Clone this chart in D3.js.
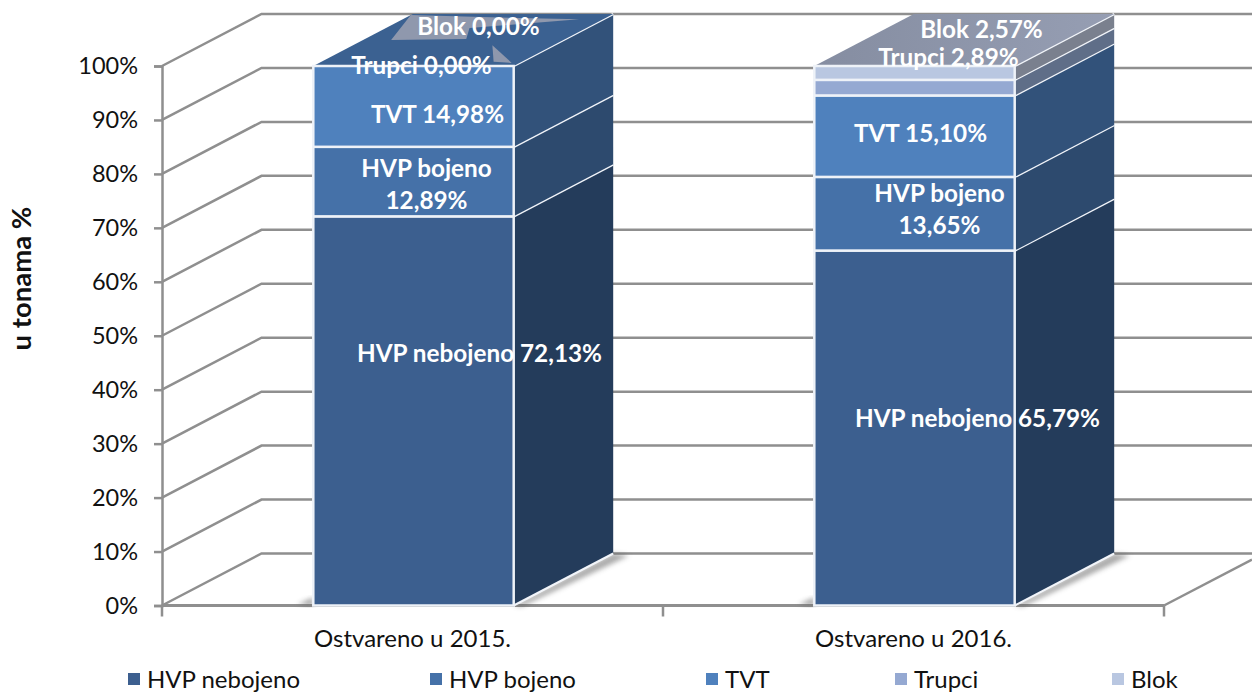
<!DOCTYPE html>
<html><head><meta charset="utf-8">
<script src="https://cdn.jsdelivr.net/npm/d3@7"></script>
<style>html,body{margin:0;padding:0;background:#fff}svg{display:block}text{font-family:Lato,"Open Sans",sans-serif}</style>
</head><body><svg id="c" width="1252" height="693"></svg>
<script>
const categories = ["Ostvareno u 2015.", "Ostvareno u 2016."];
const seriesNames = ["HVP nebojeno", "HVP bojeno", "TVT", "Trupci", "Blok"];
const values2015 = [72.13, 12.89, 14.98, 0, 0];
const values2016 = [65.79, 13.65, 15.10, 2.89, 2.57];
const frontColors = ["#3c5f8f", "#4571a8", "#4f81bd", "#95a9d2", "#b9c7e1"];
const sideColors = ["#243c5b", "#2d4a6e", "#32527a", "#5f6e88", "#7a808e"];
const legendX = [128, 430, 706, 895, 1112];
const yTicks = d3.range(0, 101, 10);

const GRID = "#8f8f8f";
const depthX = 99.5, depthY = -52;
const svg = d3.select("#c");
const y = d3.scaleLinear().domain([0, 100]).range([605.5, 66]);
const x = d3.scaleBand().domain(categories).range([162, 1164]);
const barW = x.bandwidth() * 0.4;
const barLeft = c => x(c) + (x.bandwidth() - barW) / 2 + 1;
const pct = v => v.toFixed(2).replace(".", ",") + "%";

const defs = svg.append("defs");
defs.append("filter").attr("id", "soft").attr("x", "-30%").attr("y", "-30%").attr("width", "160%").attr("height", "160%")
  .append("feGaussianBlur").attr("stdDeviation", 2.5);
const lg = defs.append("linearGradient").attr("id", "topGrey").attr("x1", 0).attr("x2", 1).attr("y1", 0).attr("y2", 0);
lg.append("stop").attr("offset", 0).attr("stop-color", "#858da1");
lg.append("stop").attr("offset", 1).attr("stop-color", "#969eb3");

const g = svg.append("g");
yTicks.forEach(t => {
  g.append("path").attr("fill", "none").attr("stroke", GRID).attr("stroke-width", 2.5)
    .attr("d", d3.line()([[x.range()[0], y(t)], [x.range()[0] + depthX, y(t) + depthY], [1252, y(t) + depthY]]));
});
g.append("line").attr("x1", x.range()[1]).attr("y1", y(0)).attr("x2", x.range()[1] + 88).attr("y2", y(0) + depthY * 88 / depthX)
  .attr("stroke", GRID).attr("stroke-width", 2.5);

const yAxis = g.append("g").attr("transform", `translate(${x.range()[0]},0)`)
  .call(d3.axisLeft(y).tickValues(yTicks).tickFormat(d => d + "%").tickSize(8).tickPadding(16));
yAxis.selectAll("path,line").attr("stroke", GRID).attr("stroke-width", 2.5);
yAxis.selectAll("text").attr("font-size", 23.5).attr("fill", "#111").attr("font-family", "Lato");

const xAxis = g.append("g").attr("transform", `translate(0,${y(0)})`)
  .call(d3.axisBottom(x).tickValues(categories).tickSize(0).tickPadding(24));
xAxis.select("path").attr("stroke", GRID).attr("stroke-width", 3).attr("d", `M${x.range()[0]},0H${x.range()[1]}`);
xAxis.selectAll("text").attr("font-size", 24).attr("fill", "#111").attr("font-family", "Lato");
[x.range()[0], x.range()[0] + x.bandwidth(), x.range()[1]].forEach(px => {
  g.append("line").attr("x1", px).attr("x2", px).attr("y1", y(0)).attr("y2", y(0) + 11).attr("stroke", GRID).attr("stroke-width", 2.5);
});

const stacks = d3.stack().keys(d3.range(5))([values2015, values2016]);
const seg = (ci, si) => stacks[si][ci];

categories.forEach((c, ci) => {
  const L = barLeft(c), R = L + barW;
  const bar = g.append("g");
  bar.append("path").attr("fill", "#666").attr("opacity", .6).attr("filter", "url(#soft)")
    .attr("d", d3.line()([[L - 16, y(0) - 1], [L, y(0) - 8], [L, y(0)]]) + "Z");
  bar.append("path").attr("fill", "#555").attr("opacity", .5).attr("filter", "url(#soft)")
    .attr("d", d3.line()([[R, y(0)], [R + depthX, y(0) + depthY], [R + depthX + 16, y(0) + depthY + 2], [R + 8, y(0) + 1]]) + "Z");

  seriesNames.forEach((_, si) => {
    const [a, b] = seg(ci, si);
    if (b - a <= 0) return;
    bar.append("path").attr("fill", sideColors[si])
      .attr("d", d3.line()([[R, y(a)], [R + depthX, y(a) + depthY], [R + depthX, y(b) + depthY], [R, y(b)]]) + "Z");
    bar.append("line").attr("x1", R).attr("y1", y(b)).attr("x2", R + depthX).attr("y2", y(b) + depthY)
      .attr("stroke", "#f2f5fa").attr("stroke-width", 2.5);
  });
  bar.append("line").attr("x1", R).attr("y1", y(0)).attr("x2", R + depthX).attr("y2", y(0) + depthY)
    .attr("stroke", "#f2f5fa").attr("stroke-width", 2);

  const topVal = 100;
  const topPt = (u, v) => [L + u * barW + v * depthX, y(topVal) + v * depthY];
  const topHasBlok = seg(ci, 4)[1] - seg(ci, 4)[0] > 0;
  bar.append("path").attr("fill", topHasBlok ? "url(#topGrey)" : "#3b6191")
    .attr("d", d3.line()([topPt(0, 0), topPt(1, 0), topPt(1, 1), topPt(0, 1)]) + "Z");
  if (!topHasBlok) {
    bar.append("path").attr("fill", "#8f98ad")
      .attr("d", d3.line()([topPt(0, .98), topPt(.14, .5), topPt(.505, .52), topPt(.417, .73), topPt(.88, .9), topPt(.377, .94)]) + "Z");
    bar.append("path").attr("fill", "#8f98ad")
      .attr("d", d3.line()([topPt(.695, .4), topPt(.86, .08), topPt(.96, .06)]) + "Z");
  }

  seriesNames.forEach((_, si) => {
    const [a, b] = seg(ci, si);
    if (b - a <= 0) return;
    bar.append("rect").attr("x", L).attr("y", y(b)).attr("width", barW).attr("height", y(a) - y(b))
      .attr("fill", frontColors[si]).attr("stroke", "#eef2f8").attr("stroke-width", 2.5);
  });
});

const labelOffsets = [
  [[66, -57], [13, 3], [24, 8], [8, -1], [65, -40]],
  [[63, -10], [25, -4], [6, -3], [34, -30], [67, -43]]
];
const labels = g.append("g").attr("font-weight", 700).attr("font-size", 24.3).attr("fill", "#fff").attr("text-anchor", "middle");
categories.forEach((c, ci) => {
  const cx = barLeft(c) + barW / 2;
  const vals = ci === 0 ? values2015 : values2016;
  seriesNames.forEach((name, si) => {
    const [a, b] = seg(ci, si);
    const [ox, oy] = labelOffsets[ci][si];
    const px = cx + ox, py = y((a + b) / 2) + oy;
    const t = labels.append("text").attr("x", px).attr("y", py).attr("dy", "0.35em");
    if (name === "HVP bojeno") {
      t.attr("y", py - 16).text(name);
      labels.append("text").attr("x", px).attr("y", py + 16).attr("dy", "0.35em").text(pct(vals[si]));
    } else t.text(name + " " + pct(vals[si]));
  });
});

svg.append("text").attr("transform", "translate(31,278.5) rotate(-90)").attr("text-anchor", "middle")
  .attr("font-weight", 700).attr("font-size", 27.5).attr("fill", "#111").text("u tonama %");

const leg = svg.append("g");
seriesNames.forEach((n, i) => {
  leg.append("rect").attr("x", legendX[i]).attr("y", 673).attr("width", 12).attr("height", 12).attr("fill", frontColors[i]);
  leg.append("text").attr("x", legendX[i] + 19).attr("y", 688).attr("font-size", 24).attr("fill", "#111").text(n);
});
</script></body></html>
